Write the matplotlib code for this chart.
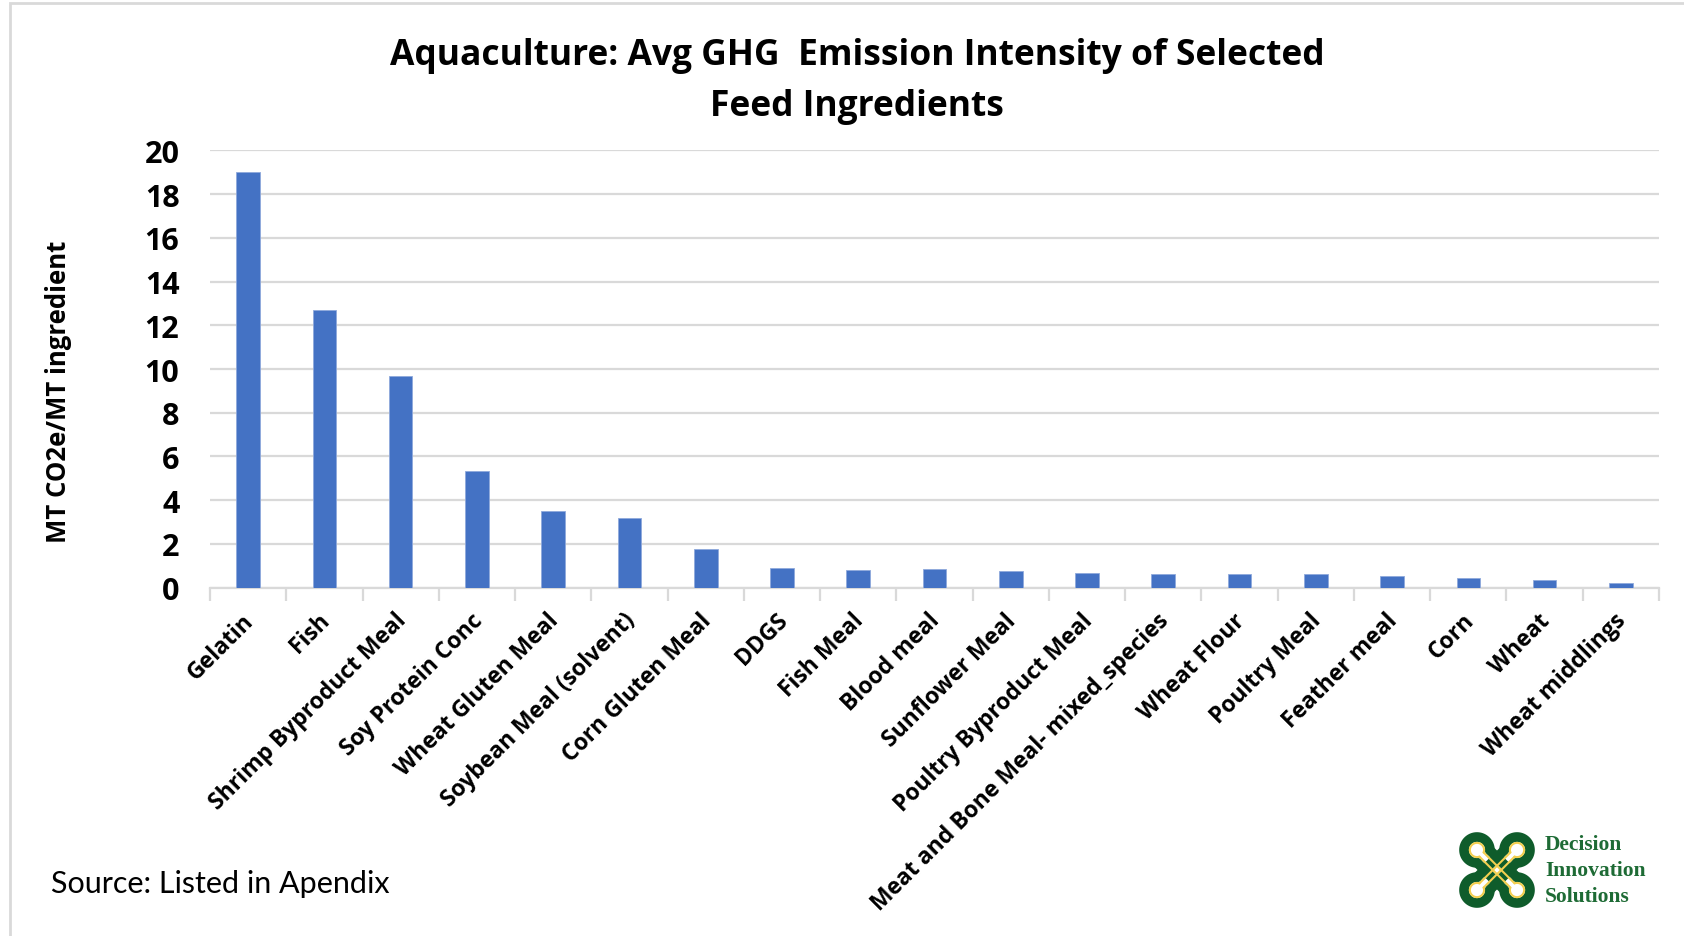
import numpy as np
import matplotlib
matplotlib.use('Agg')
import matplotlib.pyplot as plt
from matplotlib.patches import Rectangle
from matplotlib.transforms import offset_copy

# feed ingredients, sorted by average emission intensity
ingredients = ['Gelatin', 'Fish', 'Shrimp Byproduct Meal', 'Soy Protein Conc',
               'Wheat Gluten Meal', 'Soybean Meal (solvent)', 'Corn Gluten Meal',
               'DDGS', 'Fish Meal', 'Blood meal', 'Sunflower Meal',
               'Poultry Byproduct Meal', 'Meat and Bone Meal- mixed_species',
               'Wheat Flour', 'Poultry Meal', 'Feather meal', 'Corn', 'Wheat',
               'Wheat middlings']
ghg_intensity = [19.0, 12.7, 9.7, 5.35, 3.52, 3.17, 1.77, 0.9, 0.82, 0.83,
                 0.77, 0.69, 0.62, 0.62, 0.62, 0.55, 0.42, 0.34, 0.2]
y_ticks = [0, 2, 4, 6, 8, 10, 12, 14, 16, 18, 20]

BLUE = '#4472C4'
GRID = '#D9D9D9'
DARK_GREEN = '#0F5C2B'
GOLD = '#F3CF4F'

W, H = 1684, 937
fig = plt.figure(figsize=(W / 100, H / 100), dpi=100)
fig.patch.set_facecolor('white')

# thin grey frame around the slide
fig.patches.append(Rectangle((10 / W, -0.01), 1.05, 1 - 4 / H + 0.01,
                             transform=fig.transFigure, fill=False,
                             edgecolor='#D9D9D9', lw=2))

ax = fig.add_axes([210 / W, 1 - 588.6 / H, (1659 - 210) / W, (588.6 - 151.4) / H])
x = np.arange(len(ingredients))
ax.bar(x, ghg_intensity, width=0.31, color=BLUE, edgecolor='#8FA9DC',
       linewidth=0.6, zorder=3)

ax.set_xlim(-0.5, len(ingredients) - 0.5)
ax.set_ylim(0, 20)
ax.set_yticks(y_ticks)
ax.set_yticklabels([str(v) for v in y_ticks], fontsize=22, fontweight='bold',
                   family='Open Sans')
ax.tick_params(axis='y', length=0, pad=22)
ax.grid(axis='y', color=GRID, lw=1.6, zorder=0)
for s in ['left', 'right', 'top']:
    ax.spines[s].set_visible(False)
ax.spines['bottom'].set_color(GRID)
ax.spines['bottom'].set_linewidth(1.6)

# category boundary ticks below the axis
ax.set_xticks(np.arange(-0.5, len(ingredients), 1.0))
ax.set_xticklabels([])
ax.tick_params(axis='x', length=9, width=1.6, color=GRID)

label_tr = offset_copy(ax.get_xaxis_transform(), fig=fig, x=2, y=-29, units='dots')
for xi, name in zip(x, ingredients):
    ax.text(xi, 0, name, transform=label_tr, rotation=45, rotation_mode='anchor',
            ha='right', va='center', fontsize=16.5, fontweight='bold',
            family='Open Sans')

fig.text(0.509, 0.913, 'Aquaculture: Avg GHG  Emission Intensity of Selected\nFeed Ingredients',
         ha='center', va='center', fontsize=25.5, fontweight='bold',
         family='Open Sans', linespacing=1.55)

fig.text(59 / W, 1 - 392 / H, 'MT CO2e/MT ingredient', rotation=90,
         ha='center', va='center', fontsize=18.5, fontweight='bold',
         family='Open Sans')

fig.text(51 / W, 1 - 884 / H, 'Source: Listed in Apendix', ha='left',
         va='center', fontsize=22, family='Lato')

# company logo: four corner loops joined by two crossing diagonal bands
lg = fig.add_axes([(1497 - 42) / W, 1 - (871 + 42) / H, 84 / W, 84 / H])
lg.set_xlim(-1.3, 1.3)
lg.set_ylim(-1.3, 1.3)
lg.set_aspect('equal')
lg.axis('off')


def draw_knot(a, R, d, lw, col):
    beta = np.arcsin(min(d / (R * np.sqrt(2)), 1.0))
    for cx, cy in [(1, 1), (-1, 1), (-1, -1), (1, -1)]:
        inward = np.arctan2(-cy, -cx)
        th = np.linspace(inward + beta, inward + 2 * np.pi - beta, 80)
        lg.plot(cx * a + R * np.cos(th), cy * a + R * np.sin(th), color=col,
                lw=lw, solid_capstyle='round')
    # each diagonal band is two parallel strokes between opposite loops
    for sx, sy in [(1, 1), (-1, 1)]:
        inward = np.arctan2(-sy, -sx)
        for sgn in (1, -1):
            p = np.array([sx * a, sy * a]) + R * np.array([np.cos(inward + sgn * beta),
                                                           np.sin(inward + sgn * beta)])
            q = np.array([-sx * a, -sy * a]) + R * np.array([np.cos(inward + np.pi - sgn * beta),
                                                             np.sin(inward + np.pi - sgn * beta)])
            lg.plot([p[0], q[0]], [p[1], q[1]], color=col, lw=lw,
                    solid_capstyle='round')


draw_knot(0.62, 0.40, 0.39, 7.0, DARK_GREEN)
draw_knot(0.62, 0.22, 0.13, 1.5, GOLD)

for i, word in enumerate(['Decision', 'Innovation', 'Solutions']):
    fig.text(1545 / W, 1 - (845 + 26 * i) / H, word, ha='left', va='center',
             fontsize=15.5, fontweight='bold', family='Liberation Serif',
             color='#1E6B35')

fig.savefig('out.png', dpi=100, facecolor='white')
